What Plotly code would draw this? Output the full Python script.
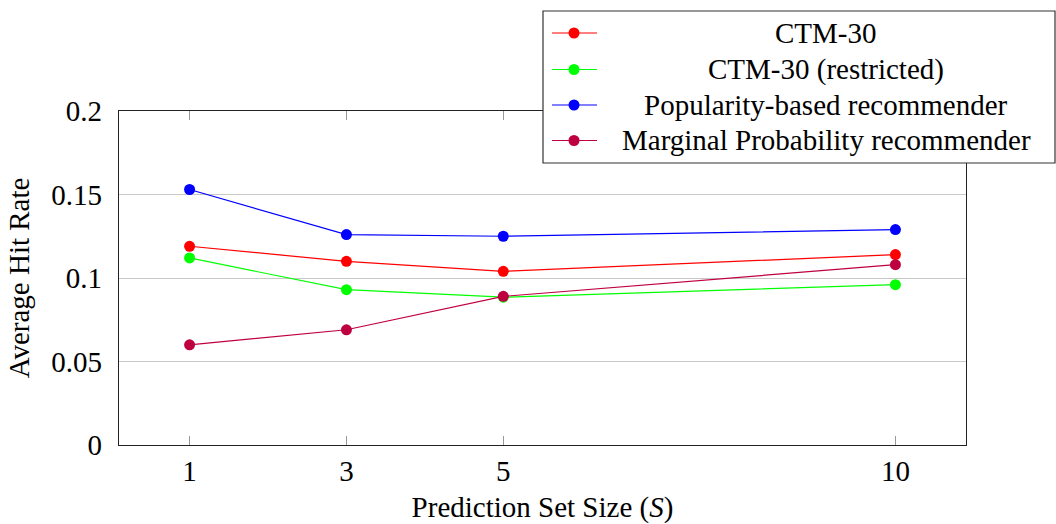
import plotly.graph_objects as go

# ---- data ----
set_sizes = [1, 3, 5, 10]
ctm30 = [0.119, 0.110, 0.104, 0.114]
ctm30_restricted = [0.112, 0.093, 0.0885, 0.096]
popularity = [0.153, 0.126, 0.125, 0.129]
marginal = [0.060, 0.069, 0.089, 0.108]
series_names = ["CTM-30", "CTM-30 (restricted)", "Popularity-based recommender",
                "Marginal Probability recommender"]
series_colors = ["#ff0000", "#00ff00", "#0000ff", "#bf0040"]
x_ticks = [1, 3, 5, 10]
y_ticks = [0, 0.05, 0.1, 0.15, 0.2]
y_tick_labels = ["0", "0.05", "0.1", "0.15", "0.2"]

W, H = 1056, 524
L, R, T, B = 119, 90, 111, 79
PW, PH = W - L - R, H - T - B
FONT = "Liberation Serif"
FS = 29


def px(x):
    return (x - L) / PW


def py(y):
    return (H - B - y) / PH


fig = go.Figure()
for name, ys, col in zip(series_names, [ctm30, ctm30_restricted, popularity, marginal], series_colors):
    fig.add_trace(go.Scatter(
        x=set_sizes, y=ys, name=name, mode="lines+markers",
        line=dict(color=col, width=1.2),
        marker=dict(color=col, size=11),
        showlegend=False, cliponaxis=False,
    ))

# custom legend (centered text like pgfplots)
shapes = [dict(type="rect", xref="paper", yref="paper",
               x0=px(543), x1=px(1055), y0=py(163), y1=py(11),
               line=dict(color="#333333", width=1.2), fillcolor="white", layer="above")]
annotations = []
rows = [33, 69.5, 105, 140.5]
for name, col, ry in zip(series_names, series_colors, rows):
    shapes.append(dict(type="line", xref="paper", yref="paper",
                       x0=px(552), x1=px(597), y0=py(ry), y1=py(ry),
                       line=dict(color=col, width=1.2), layer="above"))
    shapes.append(dict(type="circle", xref="paper", yref="paper",
                       x0=px(574 - 5.5), x1=px(574 + 5.5), y0=py(ry + 5.5), y1=py(ry - 5.5),
                       line=dict(color=col, width=0), fillcolor=col, layer="above"))
    annotations.append(dict(xref="paper", yref="paper", x=px(826), y=py(ry),
                            text=name, showarrow=False, xanchor="center", yanchor="middle",
                            font=dict(family=FONT, size=FS, color="black")))

fig.update_layout(
    width=W, height=H,
    margin=dict(l=L, r=R, t=T, b=B, pad=0),
    paper_bgcolor="white", plot_bgcolor="white",
    font=dict(family=FONT, size=FS, color="black"),
    shapes=shapes, annotations=annotations,
    xaxis=dict(
        range=[0.1, 10.9], tickvals=x_ticks, ticktext=[str(v) for v in x_ticks],
        showgrid=False, zeroline=False, automargin=False,
        showline=True, linecolor="#222222", linewidth=1.2, mirror="ticks",
        ticks="inside", ticklen=9, tickcolor="#999999", tickwidth=1,
        ticklabelstandoff=0,
        title=dict(text="Prediction Set Size (<i>S</i>)", standoff=12,
                   font=dict(family=FONT, size=FS)),
        tickfont=dict(family=FONT, size=FS),
    ),
    yaxis=dict(
        range=[0, 0.2], tickvals=y_ticks, ticktext=y_tick_labels,
        showgrid=True, gridcolor="#c8c8c8", gridwidth=1, zeroline=False, automargin=False,
        showline=True, linecolor="#222222", linewidth=1.2, mirror=True,
        ticks="", ticklabelstandoff=10,
        title=dict(text="Average Hit Rate", standoff=13,
                   font=dict(family=FONT, size=FS)),
        tickfont=dict(family=FONT, size=FS),
    ),
)

fig.write_html("out.html")
